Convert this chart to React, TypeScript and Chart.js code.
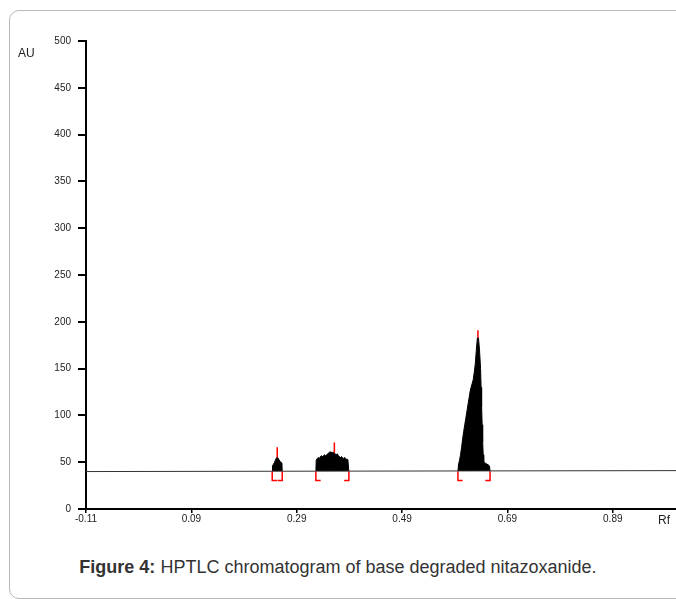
import React, { useEffect, useRef } from "react";
import { Chart, registerables } from "chart.js";

Chart.register(...registerables);

// ---------- data ----------
const xTicks = [-0.11, 0.09, 0.29, 0.49, 0.69, 0.89];
const xMin = -0.11;
const xMax = 1.01;
const yMin = 0;
const yMax = 500;
const yStep = 50;

const baselineRf = [-0.11, 1.01];
const baselineAU = [40, 41];

const peak1Rf = [0.2435, 0.244, 0.246, 0.248, 0.25, 0.252, 0.254, 0.256, 0.258, 0.26, 0.262, 0.2625];
const peak1AU = [40, 46, 48, 50, 53, 55, 55, 53, 51, 50, 49, 40];

const peak2Rf = [
  0.3264, 0.327, 0.329, 0.331, 0.333, 0.335, 0.337, 0.339, 0.341, 0.343, 0.345, 0.347, 0.349,
  0.351, 0.353, 0.355, 0.357, 0.359, 0.361, 0.363, 0.365, 0.367, 0.369, 0.371, 0.373, 0.375,
  0.377, 0.379, 0.381, 0.383, 0.385, 0.387, 0.389,
];
const peak2AU = [
  40, 52, 54, 55, 54, 56, 57, 56, 57, 58, 57, 58, 59,
  60, 61, 61, 60, 61, 60, 59, 58, 59, 57, 56, 55, 56,
  55, 54, 55, 54, 53, 53, 40,
];

const peak3Rf = [
  0.596, 0.597, 0.599, 0.601, 0.603, 0.605, 0.607, 0.609, 0.611, 0.613, 0.615, 0.617, 0.619,
  0.621, 0.623, 0.625, 0.627, 0.629, 0.631, 0.633, 0.635, 0.637, 0.639, 0.64, 0.641, 0.642,
  0.643, 0.644, 0.645, 0.648, 0.651, 0.654, 0.656, 0.657,
];
const peak3AU = [
  40, 47, 52, 58, 66, 75, 83, 90, 97, 104, 111, 118, 125,
  130, 134, 138, 146, 155, 170, 183, 183, 170, 150, 130, 110, 90,
  72, 58, 50, 49, 48, 47, 46, 40,
];

const peakStartRf = [0.2435, 0.3264, 0.596];
const peakEndRf = [0.2625, 0.389, 0.657];
const bracketTopAU = 40;
const bracketBottomAU = 30.5;
const bracketArmRf = 0.009;

const markerRf = [0.253, 0.3615, 0.634];
const markerFromAU = [55, 60, 183];
const markerToAU = [66, 71, 191];

const FONT = "'Liberation Sans', Arial, sans-serif";

const toPoints = (xs: number[], ys: number[]) => xs.map((x, i) => ({ x, y: ys[i] }));

export default function App() {
  const canvasRef = useRef<HTMLCanvasElement | null>(null);

  useEffect(() => {
    const canvas = canvasRef.current;
    if (!canvas) return;

    const bracketData: { x: number; y: number | null }[] = [];
    peakStartRf.forEach((s, i) => {
      const e = peakEndRf[i];
      bracketData.push(
        { x: s + bracketArmRf, y: bracketBottomAU },
        { x: s, y: bracketBottomAU },
        { x: s, y: bracketTopAU },
        { x: s, y: null },
        { x: e, y: bracketTopAU },
        { x: e, y: bracketBottomAU },
        { x: e - bracketArmRf, y: bracketBottomAU },
        { x: e, y: null }
      );
    });

    const markerData: { x: number; y: number | null }[] = [];
    markerRf.forEach((m, i) => {
      markerData.push({ x: m, y: markerFromAU[i] }, { x: m, y: markerToAU[i] }, { x: m, y: null });
    });

    const peakDs = (xs: number[], ys: number[]) => ({
      data: toPoints(xs, ys),
      borderColor: "#000",
      backgroundColor: "#000",
      borderWidth: 1,
      pointRadius: 0,
      fill: { value: 40.5 },
      order: 5,
    });

    const labelsPlugin = {
      id: "axisNames",
      afterDraw(chart: any) {
        const ctx = chart.ctx;
        ctx.save();
        ctx.fillStyle = "#222";
        ctx.font = `12px ${FONT}`;
        ctx.textBaseline = "middle";
        ctx.textAlign = "left";
        ctx.fillText("AU", 10, 46);
        ctx.fillText("Rf", 650, 513);
        ctx.restore();
      },
    };

    const chart = new Chart(canvas, {
      type: "line",
      data: {
        datasets: [
          peakDs(peak1Rf, peak1AU),
          peakDs(peak2Rf, peak2AU),
          peakDs(peak3Rf, peak3AU),
          {
            data: toPoints(baselineRf, baselineAU),
            borderColor: "#333",
            borderWidth: 1,
            pointRadius: 0,
            fill: false,
            order: 4,
          },
          {
            data: bracketData,
            borderColor: "#ff0000",
            borderWidth: 1.5,
            pointRadius: 0,
            fill: false,
            spanGaps: false,
            order: 2,
          },
          {
            data: markerData,
            borderColor: "#ff0000",
            borderWidth: 1.5,
            pointRadius: 0,
            fill: false,
            spanGaps: false,
            order: 1,
          },
        ] as any,
      },
      options: {
        responsive: false,
        animation: false,
        events: [],
        layout: { padding: { top: 33, left: 0, right: 0, bottom: 0 } },
        plugins: {
          legend: { display: false },
          tooltip: { enabled: false },
          title: { display: false },
        },
        scales: {
          x: {
            type: "linear",
            min: xMin,
            max: xMax,
            afterBuildTicks: (scale: any) => {
              scale.ticks = xTicks.map((v) => ({ value: v }));
            },
            afterFit: (scale: any) => {
              scale.height = 31;
            },
            ticks: {
              autoSkip: false,
              maxRotation: 0,
              padding: 0,
              color: "#222",
              font: { family: FONT, size: 10 },
              callback: (v: any) => Number(v).toFixed(2),
            },
            grid: {
              drawOnChartArea: false,
              drawTicks: true,
              tickLength: 4,
              color: "#000",
              lineWidth: 1.5,
            },
            border: { display: true, color: "#000", width: 2 },
          },
          y: {
            type: "linear",
            min: yMin,
            max: yMax,
            afterFit: (scale: any) => {
              scale.width = 78;
            },
            ticks: {
              stepSize: yStep,
              padding: 7,
              color: "#222",
              font: { family: FONT, size: 10 },
            },
            grid: {
              drawOnChartArea: false,
              drawTicks: true,
              tickLength: 8,
              color: "#000",
              lineWidth: 2,
            },
            border: { display: true, color: "#000", width: 2 },
          },
        },
      },
      plugins: [labelsPlugin],
    });

    return () => chart.destroy();
  }, []);

  return (
    <div
      style={{
        position: "fixed",
        left: 0,
        top: 0,
        width: 676,
        height: 599,
        overflow: "hidden",
        background: "#fff",
      }}
    >
      <div
        style={{
          position: "absolute",
          left: 9,
          top: 10,
          width: 720,
          height: 589,
          border: "1px solid #b8b8b8",
          borderRadius: 10,
          boxSizing: "border-box",
        }}
      />
      <canvas
        ref={canvasRef}
        width={668}
        height={532}
        style={{ position: "absolute", left: 8, top: 8, width: 668, height: 532 }}
      />
      <div
        style={{
          position: "absolute",
          left: 0,
          top: 556,
          width: 676,
          textAlign: "center",
          fontFamily: FONT,
          fontSize: 18,
          color: "#333",
          lineHeight: "22px",
          whiteSpace: "nowrap",
        }}
      >
        <b>Figure 4:</b> HPTLC chromatogram of base degraded nitazoxanide.
      </div>
    </div>
  );
}
